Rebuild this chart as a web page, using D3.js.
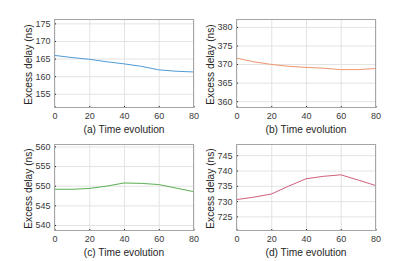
<!DOCTYPE html>
<html>
<head>
<meta charset="utf-8">
<script src="https://cdn.jsdelivr.net/npm/d3@7"></script>
<style>
  body { margin: 0; background: #fff; }
  svg { display: block; font-family: "Liberation Sans", Arial, sans-serif; }
  .grid line { stroke: #e3e3e3; stroke-width: 1; }
  .grid path { display: none; }
  .axis path { display: none; }
  .axis line { stroke: #262626; }
  .axis text { fill: #3a3a3a; font-size: 9px; }
  .frame { fill: none; stroke: #a6a6a6; stroke-width: 1; }
  .title { fill: #262626; font-size: 10.2px; }
</style>
</head>
<body>
<script>
// sample times (x axis)
var times = [0, 10, 20, 30, 40, 50, 60, 70, 80];
var xTicks = [0, 20, 40, 60, 80];

// excess delay per panel (ns)
var delayA = [165.9, 165.3, 164.8, 164.1, 163.5, 162.8, 161.8, 161.4, 161.2];
var delayB = [371.6, 370.6, 369.9, 369.4, 369.1, 368.9, 368.5, 368.5, 368.8];
var delayC = [549.1, 549.1, 549.3, 549.9, 550.7, 550.6, 550.3, 549.4, 548.5];
var delayD = [730.5, 731.3, 732.3, 734.9, 737.3, 738.1, 738.6, 736.9, 735.1];

var ticksA = [155, 160, 165, 170, 175];
var ticksB = [360, 365, 370, 375, 380];
var ticksC = [540, 545, 550, 555, 560];
var ticksD = [725, 730, 735, 740, 745];

var captions = ['(a) Time evolution', '(b) Time evolution', '(c) Time evolution', '(d) Time evolution'];

var width = 415, height = 261;
var svg = d3.select('body').append('svg').attr('width', width).attr('height', height);

var panels = [
	{vals: delayA, ticks: ticksA, dom: [151.1, 176.1], color: '#4f9bd6', box: [54.5, 193.5, 19.5, 107.5], cap: captions[0]},
	{vals: delayB, ticks: ticksB, dom: [358.3, 382.0], color: '#ef9570', box: [236.5, 375.5, 19.5, 107.5], cap: captions[1]},
	{vals: delayC, ticks: ticksC, dom: [538.6, 560.5], color: '#5aae52', box: [54.5, 193.5, 144.5, 230.5], cap: captions[2]},
	{vals: delayD, ticks: ticksD, dom: [720.4, 748.5], color: '#cf5f7a', box: [236.5, 375.5, 144.5, 230.5], cap: captions[3]}
];

panels.forEach(function (p)
{
	var x0 = p.box[0], x1 = p.box[1], y0 = p.box[2], y1 = p.box[3];
	var x = d3.scaleLinear().domain([0, 80]).range([x0, x1]);
	var y = d3.scaleLinear().domain(p.dom).range([y1, y0]);
	var g = svg.append('g');

	// grid
	g.append('g').attr('class', 'grid')
		.attr('transform', 'translate(0,' + y1 + ')')
		.call(d3.axisBottom(x).tickValues(xTicks).tickSize(-(y1 - y0)).tickFormat(''));
	g.append('g').attr('class', 'grid')
		.attr('transform', 'translate(' + x0 + ',0)')
		.call(d3.axisLeft(y).tickValues(p.ticks).tickSize(-(x1 - x0)).tickFormat(''));

	// axes, ticks point inward
	g.append('g').attr('class', 'axis')
		.attr('transform', 'translate(0,' + y1 + ')')
		.call(d3.axisBottom(x).tickValues(xTicks).tickSize(-1.5).tickPadding(5.5));
	g.append('g').attr('class', 'axis')
		.attr('transform', 'translate(' + x0 + ',0)')
		.call(d3.axisLeft(y).tickValues(p.ticks).tickSize(-1.5).tickPadding(4));

	// data line
	var line = d3.line()
		.x(function (d, i) { return x(times[i]); })
		.y(function (d) { return y(d); });
	g.append('path').datum(p.vals)
		.attr('d', line)
		.attr('fill', 'none')
		.attr('stroke', p.color)
		.attr('stroke-width', 1);

	g.append('rect').attr('class', 'frame')
		.attr('x', x0).attr('y', y0)
		.attr('width', x1 - x0).attr('height', y1 - y0);

	// labels
	g.append('text').attr('class', 'title')
		.attr('text-anchor', 'middle')
		.attr('x', (x0 + x1) / 2)
		.attr('y', y1 + 25.5)
		.text(p.cap);
	g.append('text').attr('class', 'title')
		.attr('text-anchor', 'middle')
		.attr('transform', 'translate(' + (x0 - 26) + ',' + ((y0 + y1) / 2 + 1) + ') rotate(-90)')
		.attr('dy', '0.35em')
		.text('Excess delay (ns)');
});
</script>
</body>
</html>
